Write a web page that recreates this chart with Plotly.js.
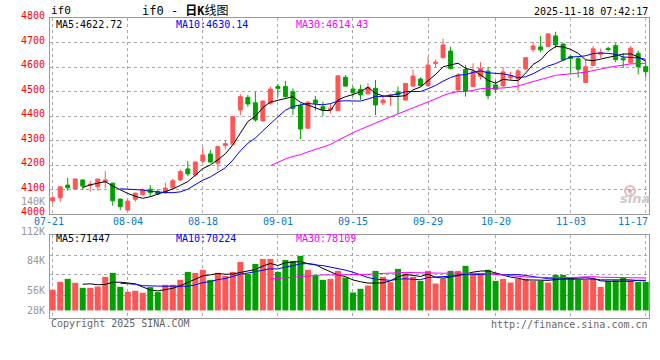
<!DOCTYPE html>
<html><head><meta charset="utf-8">
<script src="https://cdn.plot.ly/plotly-3.0.1.min.js"></script>
<style>html,body{margin:0;padding:0;background:#fff;}#chart{width:660px;height:360px;}</style>
</head><body><div id="chart"></div>
<script>
// ---- data ----
const dates = ['07-21','07-22','07-23','07-24','07-25','07-28','07-29','07-30','07-31',
 '08-01','08-04','08-05','08-06','08-07','08-08','08-11','08-12','08-13','08-14','08-15',
 '08-18','08-19','08-20','08-21','08-22','08-25','08-26','08-27','08-28','08-29',
 '09-01','09-02','09-03','09-04','09-05','09-08','09-09','09-10','09-11','09-12',
 '09-15','09-16','09-17','09-18','09-19','09-22','09-23','09-24','09-25','09-26',
 '09-29','09-30','10-09','10-10','10-13','10-14','10-15','10-16','10-17',
 '10-20','10-21','10-22','10-23','10-24','10-27','10-28','10-29','10-30','10-31',
 '11-03','11-04','11-05','11-06','11-07','11-10','11-11','11-12','11-13','11-14','11-17'];
const openP  = [4054,4066,4118,4102,4139,4117,4111,4131,4126,4061,4016,4060,4079,4101,4091,4087,4107,4139,4184,4159,
 4216,4245,4207,4280,4285,4425,4476,4454,4380,4452,4520,4520,4499,4442,4350,4465,4438,4425,4422,4558,
 4510,4509,4490,4513,4454,4479,4499,4465,4522,4551,4524,4615,4638,4665,4506,4590,4520,4561,4583,4527,
 4523,4556,4551,4592,4671,4682,4684,4727,4694,4642,4634,4537,4606,4652,4676,4687,4636,4617,4656,4601];
const highP  = [4074,4114,4147,4146,4140,4135,4143,4175,4127,4062,4054,4087,4105,4118,4101,4128,4144,4182,4216,4216,
 4275,4261,4278,4301,4397,4489,4486,4499,4462,4520,4531,4544,4513,4452,4462,4482,4458,4452,4566,4567,
 4522,4527,4534,4547,4486,4490,4520,4534,4588,4558,4642,4631,4715,4683,4575,4608,4615,4620,4600,4545,
 4599,4581,4592,4640,4703,4726,4737,4744,4695,4648,4643,4630,4686,4675,4683,4697,4656,4686,4667,4619];
const lowP   = [4042,4050,4095,4101,4098,4091,4095,4105,4033,4016,4015,4050,4073,4071,4078,4082,4101,4135,4155,4152,
 4207,4209,4177,4264,4282,4404,4438,4377,4378,4445,4479,4475,4404,4306,4349,4422,4400,4411,4420,4520,
 4479,4465,4489,4404,4445,4441,4408,4462,4520,4520,4520,4599,4636,4590,4499,4479,4519,4548,4468,4493,
 4516,4547,4503,4590,4660,4660,4682,4676,4626,4576,4557,4536,4603,4636,4664,4620,4596,4613,4570,4557];
const closeP = [4066,4111,4107,4143,4114,4121,4143,4139,4054,4030,4053,4085,4098,4087,4082,4106,4136,4173,4164,4212,
 4241,4212,4275,4287,4397,4479,4449,4384,4461,4510,4513,4479,4431,4347,4456,4452,4425,4431,4564,4522,
 4495,4486,4517,4445,4465,4486,4486,4533,4563,4524,4608,4619,4690,4594,4567,4502,4582,4594,4483,4509,
 4580,4564,4584,4638,4686,4670,4735,4690,4629,4635,4591,4601,4674,4660,4671,4630,4629,4677,4601,4581];
const volume = [49400,68400,75600,66100,54100,54100,57200,80400,89900,56500,44600,47000,42200,55800,43900,61300,61300,73200,92300,89900,
 97100,73200,89900,82800,92300,116100,87500,111400,123300,123300,92300,120900,118500,130500,97100,82800,73200,75600,94700,78700,
 42900,51800,59600,94700,80400,67700,99500,88200,80400,70800,94700,64400,75600,94700,94700,106600,86800,88200,97100,70800,
 75600,66800,75600,75600,70800,70800,66800,85100,85100,75600,73200,73200,75600,56500,70800,72000,78000,72000,68000,68000];
const tickDates = ['07-21','08-04','08-18','09-01','09-15','09-29','10-20','11-03','11-17'];
const priceTicks = [4000,4100,4200,4300,4400,4500,4600,4700,4800];
const volGrid = [35800,85100,131200];
const volTickLabels = ['140K','112K','84K','56K','28K'];
const priceMaText = ['MA5:4622.72','MA10:4630.14','MA30:4614.43'];
const volMaText = ['MA5:71447','MA10:70224','MA30:78109'];

// ---- helpers ----
const idx = dates.map((d,i)=>i);
function ma(arr,n){return arr.map((_,i)=> i<n-1?null: arr.slice(i-n+1,i+1).reduce((a,b)=>a+b,0)/n);}
const RED='#ff5555', GREEN='#00a000';
const MONO='"DejaVu Sans Mono", "Liberation Mono", monospace';
const L=50, R=649, T=18, B=318;
const px = x => (x-L)/(R-L);
const py = y => (B-y)/(B-T);

const traces = [
 {type:'candlestick', x:idx, open:openP, high:highP, low:lowP, close:closeP, xaxis:'x', yaxis:'y',
  increasing:{line:{color:RED,width:1}, fillcolor:RED}, decreasing:{line:{color:GREEN,width:1}, fillcolor:GREEN},
  whiskerwidth:0, hoverinfo:'skip'},
 {type:'scatter', mode:'lines', x:idx, y:ma(closeP,5), line:{color:'#000000',width:1}, xaxis:'x', yaxis:'y', hoverinfo:'skip'},
 {type:'scatter', mode:'lines', x:idx, y:ma(closeP,10), line:{color:'#0000ff',width:1}, xaxis:'x', yaxis:'y', hoverinfo:'skip'},
 {type:'scatter', mode:'lines', x:idx, y:ma(closeP,30), line:{color:'#ff00ff',width:1}, xaxis:'x', yaxis:'y', hoverinfo:'skip'},
 {type:'bar', x:idx, y:volume, marker:{color:idx.map(i=> closeP[i]>=openP[i]?RED:GREEN), line:{width:0}}, xaxis:'x2', yaxis:'y2', hoverinfo:'skip'},
 {type:'scatter', mode:'lines', x:idx, y:ma(volume,5), line:{color:'#000000',width:1}, xaxis:'x2', yaxis:'y2', hoverinfo:'skip'},
 {type:'scatter', mode:'lines', x:idx, y:ma(volume,10), line:{color:'#0000ff',width:1}, xaxis:'x2', yaxis:'y2', hoverinfo:'skip'},
 {type:'scatter', mode:'lines', x:idx, y:ma(volume,30), line:{color:'#ff00ff',width:1}, xaxis:'x2', yaxis:'y2', hoverinfo:'skip'}
];

const tickIdx = tickDates.map(d=>dates.indexOf(d));
const xr = [-0.36, 79.44];
const gridC = '#a8a8a8', lineC = '#999999';
const xCommon = {range:xr, tickvals:tickIdx, showticklabels:false, ticks:'', showgrid:true, gridcolor:gridC, griddash:'dot', gridwidth:1,
  showline:true, linecolor:lineC, linewidth:1, mirror:true, zeroline:false, fixedrange:true};

const ann = [];
function txt(x,y,t,color,size,anchor,fam){ann.push({xref:'paper',yref:'paper',x:px(x),y:py(y),text:t,showarrow:false,xanchor:anchor||'left',yanchor:'middle',borderpad:0,font:{family:fam||MONO,size:size||10,color:color}});}
txt(50,11,'if0','#000',11);
txt(185,11,'if0 - <b>日K</b>线图','#000',12,'center','"DejaVu Sans Mono", "Noto Sans CJK SC", monospace');
txt(649,12,'2025-11-18 07:42:17','#000',10,'right');
txt(55,24,priceMaText[0],'#000',10); txt(175,24,priceMaText[1],'#0000ff',10); txt(295,24,priceMaText[2],'#ff00ff',10);
txt(55,238,volMaText[0],'#000',10); txt(175,238,volMaText[1],'#0000ff',10); txt(295,238,volMaText[2],'#ff00ff',10);
// price labels (red), placed slightly above their grid lines as in the reference
priceTicks.forEach(v=>{
  ann.push({xref:'paper',yref:'y',x:px(46),y:v,yshift:2.5,text:String(v),showarrow:false,xanchor:'right',yanchor:'middle',borderpad:0,
    font:{family:MONO,size:10,color:'#ff0000'}});
});
const volLabY = [201.5,231,260.7,290.7,310.7];
volTickLabels.forEach((t,i)=>txt(46,volLabY[i],t,'#999',10,'right'));
tickIdx.forEach((k,i)=>{
  const last = i===tickIdx.length-1, first = i===0;
  ann.push({xref:'x',yref:'paper',x: last? xr[1] : k, y:py(222), text:tickDates[i], showarrow:false, borderpad:0,
    xanchor: last?'right':'center', xshift: first? -4 : 0, yanchor:'middle', font:{family:MONO,size:10,color:'#0a78d0'}});
});
txt(50,323.5,'Copyright 2025 SINA.COM','#666',10);
txt(649,324,'http://finance.sina.com.cn','#666',10,'right');
txt(635,199,'<i><b>sina</b></i>','#d2c8c8',13,'center','"DejaVu Sans", sans-serif');

const layout = {
  width:660, height:360, margin:{l:L, r:660-R, t:T, b:360-B},
  paper_bgcolor:'#fff', plot_bgcolor:'#fff', showlegend:false, hovermode:false,
  boxgap:0.25, bargap:0.2,
  xaxis: Object.assign({anchor:'y', rangeslider:{visible:false}}, xCommon),
  yaxis: {domain:[py(214),1], range:[4000,4800], tickvals:priceTicks, showticklabels:false, ticks:'',
    showgrid:true, gridcolor:gridC, griddash:'dot', showline:true, linecolor:lineC, mirror:true, zeroline:false, fixedrange:true},
  xaxis2: Object.assign({anchor:'y2'}, xCommon),
  yaxis2: {domain:[0, py(234.7)], range:[-18126,181260], tickvals:volGrid, showticklabels:false, ticks:'',
    showgrid:true, gridcolor:gridC, griddash:'dot', showline:true, linecolor:lineC, mirror:true, zeroline:false, fixedrange:true},
  shapes: [
    {type:'circle', xref:'paper', yref:'paper', x0:px(625), x1:px(635), y0:py(196), y1:py(186), line:{color:'#e8b8b8',width:2}, fillcolor:'rgba(0,0,0,0)'},
    {type:'circle', xref:'paper', yref:'paper', x0:px(628), x1:px(632), y0:py(193), y1:py(189), line:{width:0}, fillcolor:'#e0a8a8'}
  ],
  annotations: ann
};
Plotly.newPlot('chart', traces, layout, {staticPlot:true, displayModeBar:false});
</script></body></html>
